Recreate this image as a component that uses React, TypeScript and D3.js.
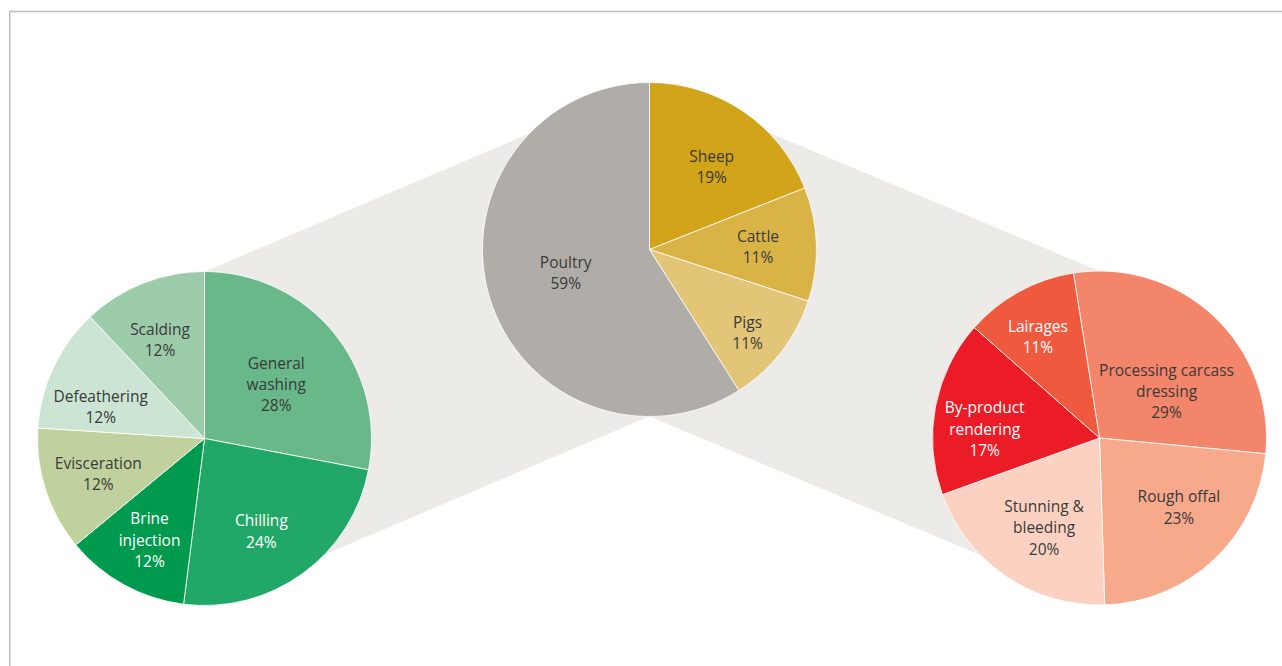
import React from "react";
import * as d3 from "d3";

// ---- Data ----
const centerLabels = ["Sheep", "Cattle", "Pigs", "Poultry"];
const centerValues = [19, 11, 11, 59];

const leftLabels = ["General washing", "Chilling", "Brine injection", "Evisceration", "Defeathering", "Scalding"];
const leftValues = [28, 24, 12, 12, 12, 12];

const rightLabels = ["Processing carcass dressing", "Rough offal", "Stunning & bleeding", "By-product rendering", "Lairages"];
const rightValues = [29, 23, 20, 17, 11];

// ---- Styling / layout ----
const centerColors = ["#d1a41a", "#dab346", "#e3c578", "#b0ada8"];
const leftColors = ["#68b88a", "#21a868", "#009a4e", "#c0d19d", "#cce4d4", "#9ccbaa"];
const rightColors = ["#f3856a", "#f7a98c", "#fbd2c1", "#ec1c27", "#ef5a3f"];

const centerText = ["#3a3a3a", "#3a3a3a", "#3a3a3a", "#3a3a3a"];
const leftText = ["#3a3a3a", "#ffffff", "#ffffff", "#3a3a3a", "#3a3a3a", "#3a3a3a"];
const rightText = ["#3a3a3a", "#3a3a3a", "#3a3a3a", "#ffffff", "#ffffff"];

const centerLines = [["Sheep"], ["Cattle"], ["Pigs"], ["Poultry"]];
const leftLines = [["General", "washing"], ["Chilling"], ["Brine", "injection"], ["Evisceration"], ["Defeathering"], ["Scalding"]];
const rightLines = [["Processing carcass", "dressing"], ["Rough offal"], ["Stunning &", "bleeding"], ["By-product", "rendering"], ["Lairages"]];

// label placement: [radius fraction, angle nudge in degrees]
const centerLabelPos = [[0.62, 2.7], [0.65, 0.2], [0.77, 2.5], [0.52, 1]];
const leftLabelPos = [[0.54, 2.3], [0.65, 4.4], [0.69, -0.3], [0.67, -0.4], [0.65, -8.2], [0.65, -2.6]];
const rightLabelPos = [[0.49, 11.8], [0.63, -5.8], [0.63, -2.4], [0.69, -6.1], [0.71, -2.5]];

const R = 167;
const centerPie = { cx: 649.5, cy: 249.5 };
const leftPie = { cx: 204.5, cy: 438.5 };
const rightPie = { cx: 1099.5, cy: 438 };

const FONT = "'Open Sans', 'Noto Sans', sans-serif";

type PieSpec = {
  cx: number; cy: number; values: number[]; colors: string[]; textColors: string[];
  lines: string[][]; labelPos: number[][]; startDeg: number; key: string;
};

function Pie({ spec }: { spec: PieSpec }) {
  const start = (spec.startDeg * Math.PI) / 180;
  const pie = d3.pie<number>().sort(null).value((d) => d).startAngle(start).endAngle(start + 2 * Math.PI);
  const arcs = pie(spec.values);
  const arc = d3.arc<d3.PieArcDatum<number>>().innerRadius(0).outerRadius(R);
  const total = d3.sum(spec.values);
  return (
    <g transform={`translate(${spec.cx},${spec.cy})`}>
      {arcs.map((a, i) => (
        <path key={`p${i}`} d={arc(a) || ""} fill={spec.colors[i]} stroke="#ffffff" strokeWidth={0.8} />
      ))}
      {arcs.map((a, i) => {
        const [rf, nudge] = spec.labelPos[i];
        const mid = (a.startAngle + a.endAngle) / 2 + (nudge * Math.PI) / 180;
        const rr = rf * R;
        const x = rr * Math.sin(mid);
        const y = -rr * Math.cos(mid);
        const pct = `${Math.round((a.value / total) * 100)}%`;
        const lines = [...spec.lines[i], pct];
        const n = lines.length;
        return (
          <text key={`t${i}`} x={x} y={y} textAnchor="middle" fill={spec.textColors[i]}
            fontFamily={FONT} fontSize={15.5}>
            {lines.map((l, j) => (
              <tspan key={j} x={x} y={y + (j - (n - 1) / 2) * 21.3} dominantBaseline="central">{l}</tspan>
            ))}
          </text>
        );
      })}
    </g>
  );
}

export default function App() {
  const band = "#ecebe8";
  const top = { x: centerPie.cx, y: centerPie.cy - R };
  const bot = { x: centerPie.cx, y: centerPie.cy + R };
  const leftBand = `M${top.x},${top.y} L${leftPie.cx},${leftPie.cy - R} L${leftPie.cx},${leftPie.cy + R} L${bot.x},${bot.y} Z`;
  const rightBand = `M${top.x},${top.y} L${rightPie.cx},${rightPie.cy - R} L${rightPie.cx},${rightPie.cy + R} L${bot.x},${bot.y} Z`;

  const specs: PieSpec[] = [
    { key: "left", ...leftPie, values: leftValues, colors: leftColors, textColors: leftText, lines: leftLines, labelPos: leftLabelPos, startDeg: 0 },
    { key: "right", ...rightPie, values: rightValues, colors: rightColors, textColors: rightText, lines: rightLines, labelPos: rightLabelPos, startDeg: -9 },
    { key: "center", ...centerPie, values: centerValues, colors: centerColors, textColors: centerText, lines: centerLines, labelPos: centerLabelPos, startDeg: 0 },
  ];

  return (
    <svg width={1282} height={666} style={{ position: "absolute", left: 0, top: 0, background: "#ffffff" }}>
      <rect x={0} y={0} width={1282} height={666} fill="#ffffff" />
      <line x1={9} y1={11.5} x2={1282} y2={11.5} stroke="#bdbdb8" strokeWidth={1.5} />
      <line x1={9.75} y1={11} x2={9.75} y2={666} stroke="#bdbdbd" strokeWidth={1.5} />
      <path d={leftBand} fill={band} />
      <path d={rightBand} fill={band} />
      {specs.map((s) => <Pie key={s.key} spec={s} />)}
      <desc>{[...centerLabels, ...leftLabels, ...rightLabels].join(", ")}</desc>
    </svg>
  );
}
